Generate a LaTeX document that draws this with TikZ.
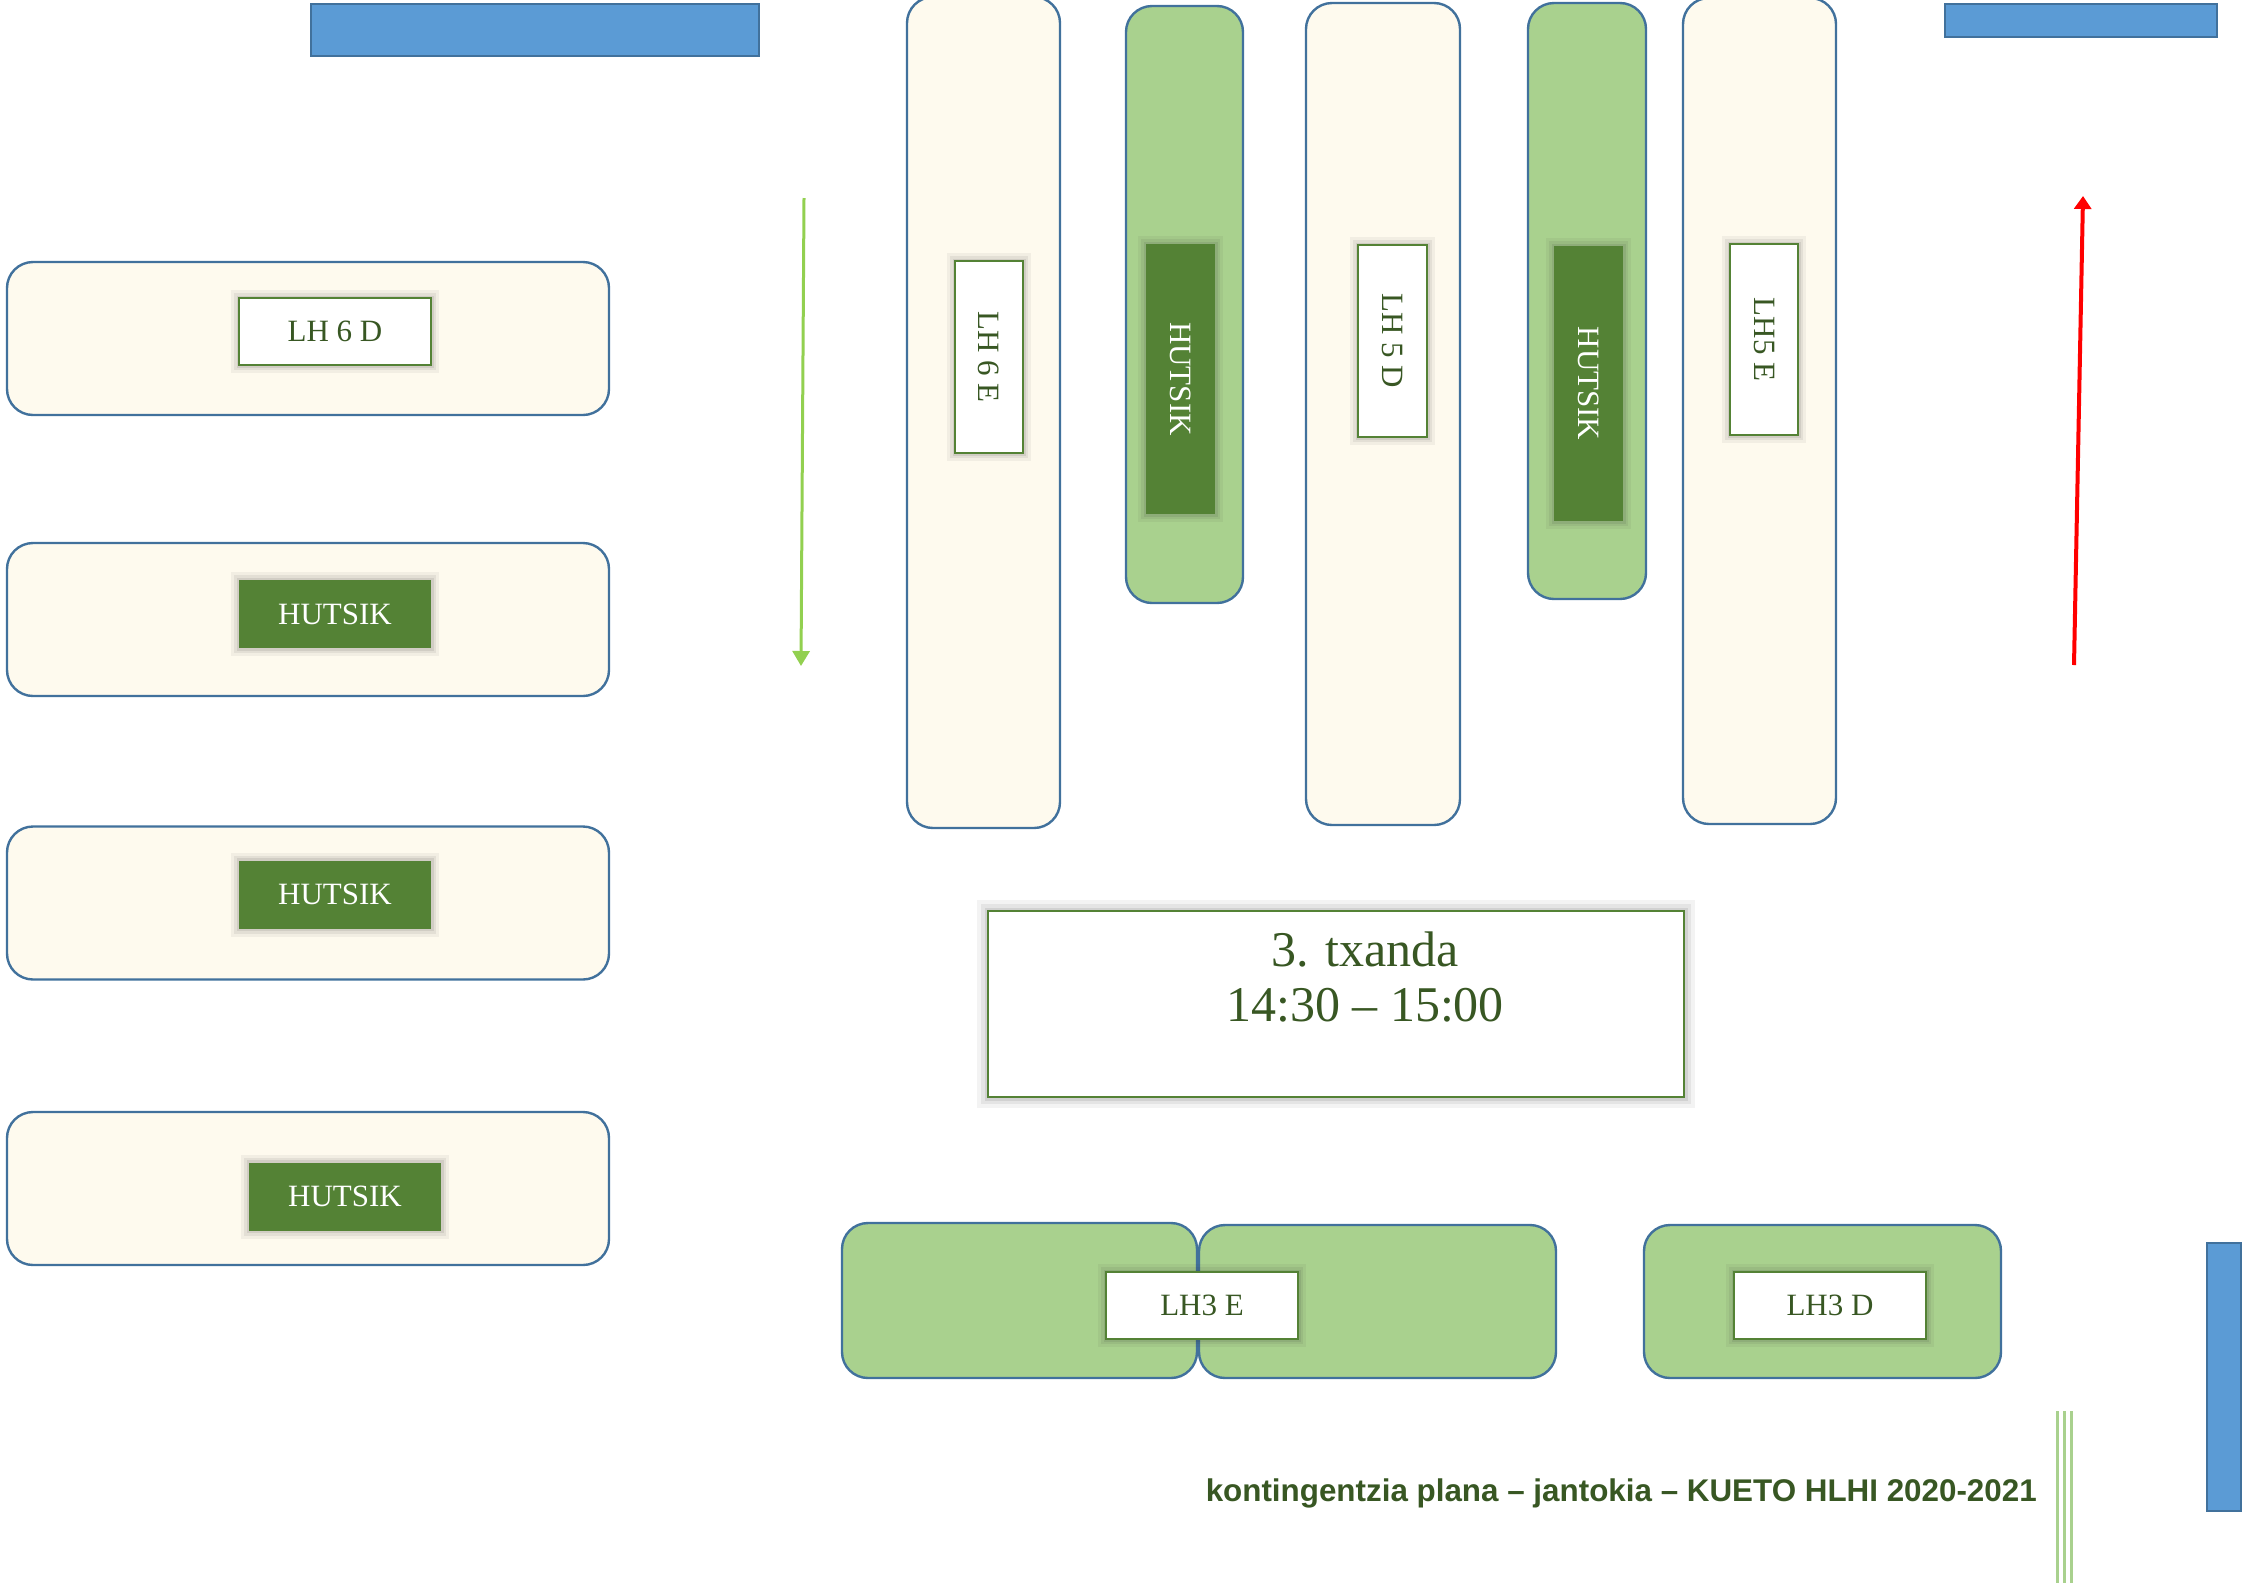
\documentclass[tikz,border=0pt]{standalone}
\usepackage{fontspec}
\usepackage{graphicx}
\setmainfont{Liberation Serif}
\newfontfamily\footfont{Liberation Sans}
\usetikzlibrary{arrows.meta}
\definecolor{cream}{HTML}{FEFAEE}
\definecolor{tblue}{HTML}{41719C}
\definecolor{lgreen}{HTML}{A9D18E}
\definecolor{dgreen}{HTML}{548235}
\definecolor{tgreen}{HTML}{385723}
\definecolor{barblue}{HTML}{5B9BD5}
\definecolor{arrgreen}{HTML}{92D050}
\begin{document}
\begin{tikzpicture}[x=1pt,y=-1pt,
  tbl/.style={draw=tblue, line width=2.4pt, rounded corners=26pt, inner sep=0pt, rectangle},
  creamtbl/.style={tbl, fill=cream},
  greentbl/.style={tbl, fill=lgreen},
  softshadow/.style={preaction={draw=black!80, draw opacity=0.06, line width=16pt},
                     preaction={draw=black!80, draw opacity=0.08, line width=10pt},
                     preaction={draw=black!80, draw opacity=0.10, line width=5pt}},
  bigshadow/.style={preaction={draw=black!80, draw opacity=0.06, line width=22pt},
                    preaction={draw=black!80, draw opacity=0.08, line width=14pt},
                    preaction={draw=black!80, draw opacity=0.10, line width=7pt}},
  lbl/.style={softshadow, draw=dgreen, line width=2pt, fill=white, text=tgreen, inner sep=0pt,
              font=\fontsize{31}{36}\selectfont, minimum width=192pt, minimum height=67pt},
  empty/.style={softshadow, fill=dgreen, text=white, inner sep=0pt,
              font=\fontsize{31}{36}\selectfont, minimum width=192pt, minimum height=68pt},
  bar/.style={draw=tblue, line width=2pt, fill=barblue, inner sep=0pt, rectangle},
  tline/.style={lgreen, line width=3pt}
]
\useasboundingbox (0,0) rectangle (2246,1588);

% blue bars
\node[bar, minimum width=448pt, minimum height=52pt] (barTL) at (535,30) {};
\node[bar, minimum width=272pt, minimum height=33pt] (barTR) at (2081,20.5) {};
\node[bar, minimum width=34pt, minimum height=268pt] (barBR) at (2224,1377) {};

% left tables
\node[creamtbl, minimum width=602pt, minimum height=153pt] (L1) at (308,338.5) {};
\node[creamtbl, minimum width=602pt, minimum height=153pt] (L2) at (308,619.5) {};
\node[creamtbl, minimum width=602pt, minimum height=153pt] (L3) at (308,903) {};
\node[creamtbl, minimum width=602pt, minimum height=153pt] (L4) at (308,1188.5) {};
\node[lbl] (L1l) at (335,331.5) {LH 6 D};
\node[empty] (L2l) at (335,614) {HUTSIK};
\node[empty] (L3l) at (335,894.5) {HUTSIK};
\node[empty] (L4l) at (345,1196.5) {HUTSIK};

% vertical tables
\node[creamtbl, minimum width=153pt, minimum height=831pt] (V1) at (983.5,412.5) {};
\node[greentbl, minimum width=117pt, minimum height=597pt] (V2) at (1184.5,304.5) {};
\node[creamtbl, minimum width=154pt, minimum height=822pt] (V3) at (1383,414) {};
\node[greentbl, minimum width=118pt, minimum height=596pt] (V4) at (1587,301) {};
\node[creamtbl, minimum width=153pt, minimum height=826pt] (V5) at (1759.5,411) {};
\node[lbl, rotate=-90, minimum width=192pt, minimum height=68pt] (V1l) at (989,357) {LH 6 E};
\node[empty, rotate=-90, minimum width=270pt, minimum height=69pt] (V2l) at (1180.5,379) {HUTSIK};
\node[lbl, rotate=-90, minimum width=192pt, minimum height=69pt] (V3l) at (1392.5,341) {LH 5 D};
\node[empty, rotate=-90, minimum width=275pt, minimum height=69pt] (V4l) at (1588.5,383.5) {HUTSIK};
\node[lbl, rotate=-90, minimum width=191pt, minimum height=68pt] (V5l) at (1764,339.5) {LH5 E};

% arrows
\coordinate (gA) at (804,198);
\coordinate (gB) at (801,666);
\draw[arrgreen, line width=3pt, -{Triangle[width=17pt,length=15pt]}] (gA) -- (gB);
\coordinate (rA) at (2074,665);
\coordinate (rB) at (2083,196);
\draw[red, line width=4pt, -{Triangle[width=17pt,length=13pt]}] (rA) -- (rB);

% shift box
\node[bigshadow, draw=dgreen, line width=2pt, fill=white, minimum width=696pt, minimum height=186pt,
      inner sep=0pt] (tx) at (1336,1004) {};
\node[text=tgreen, font=\fontsize{50}{55}\selectfont, align=center, inner sep=0pt] (txt) at (1365,977)
  {3. txanda\\14:30 – 15:00};

% bottom tables
\node[greentbl, minimum width=355pt, minimum height=155pt] (B1) at (1019.5,1300.5) {};
\node[greentbl, minimum width=357pt, minimum height=153pt] (B2) at (1377.5,1301.5) {};
\node[greentbl, minimum width=357pt, minimum height=153pt] (B3) at (1822.5,1301.5) {};
\node[lbl] (B1l) at (1202,1305.5) {LH3 E};
\node[lbl] (B3l) at (1830,1305.5) {LH3 D};

% footer
\node[text=tgreen, inner sep=0pt, anchor=east] (foot) at (2037,1493)
  {\resizebox{831pt}{!}{\footfont\bfseries kontingentzia plana – jantokia – KUETO HLHI 2020-2021}};

% green lines
\coordinate (g1a) at (2057,1411); \coordinate (g1b) at (2057,1583);
\coordinate (g2a) at (2064,1411); \coordinate (g2b) at (2064,1583);
\coordinate (g3a) at (2071,1411); \coordinate (g3b) at (2071,1583);
\draw[tline] (g1a) -- (g1b);
\draw[tline] (g2a) -- (g2b);
\draw[tline] (g3a) -- (g3b);
\end{tikzpicture}
\end{document}
